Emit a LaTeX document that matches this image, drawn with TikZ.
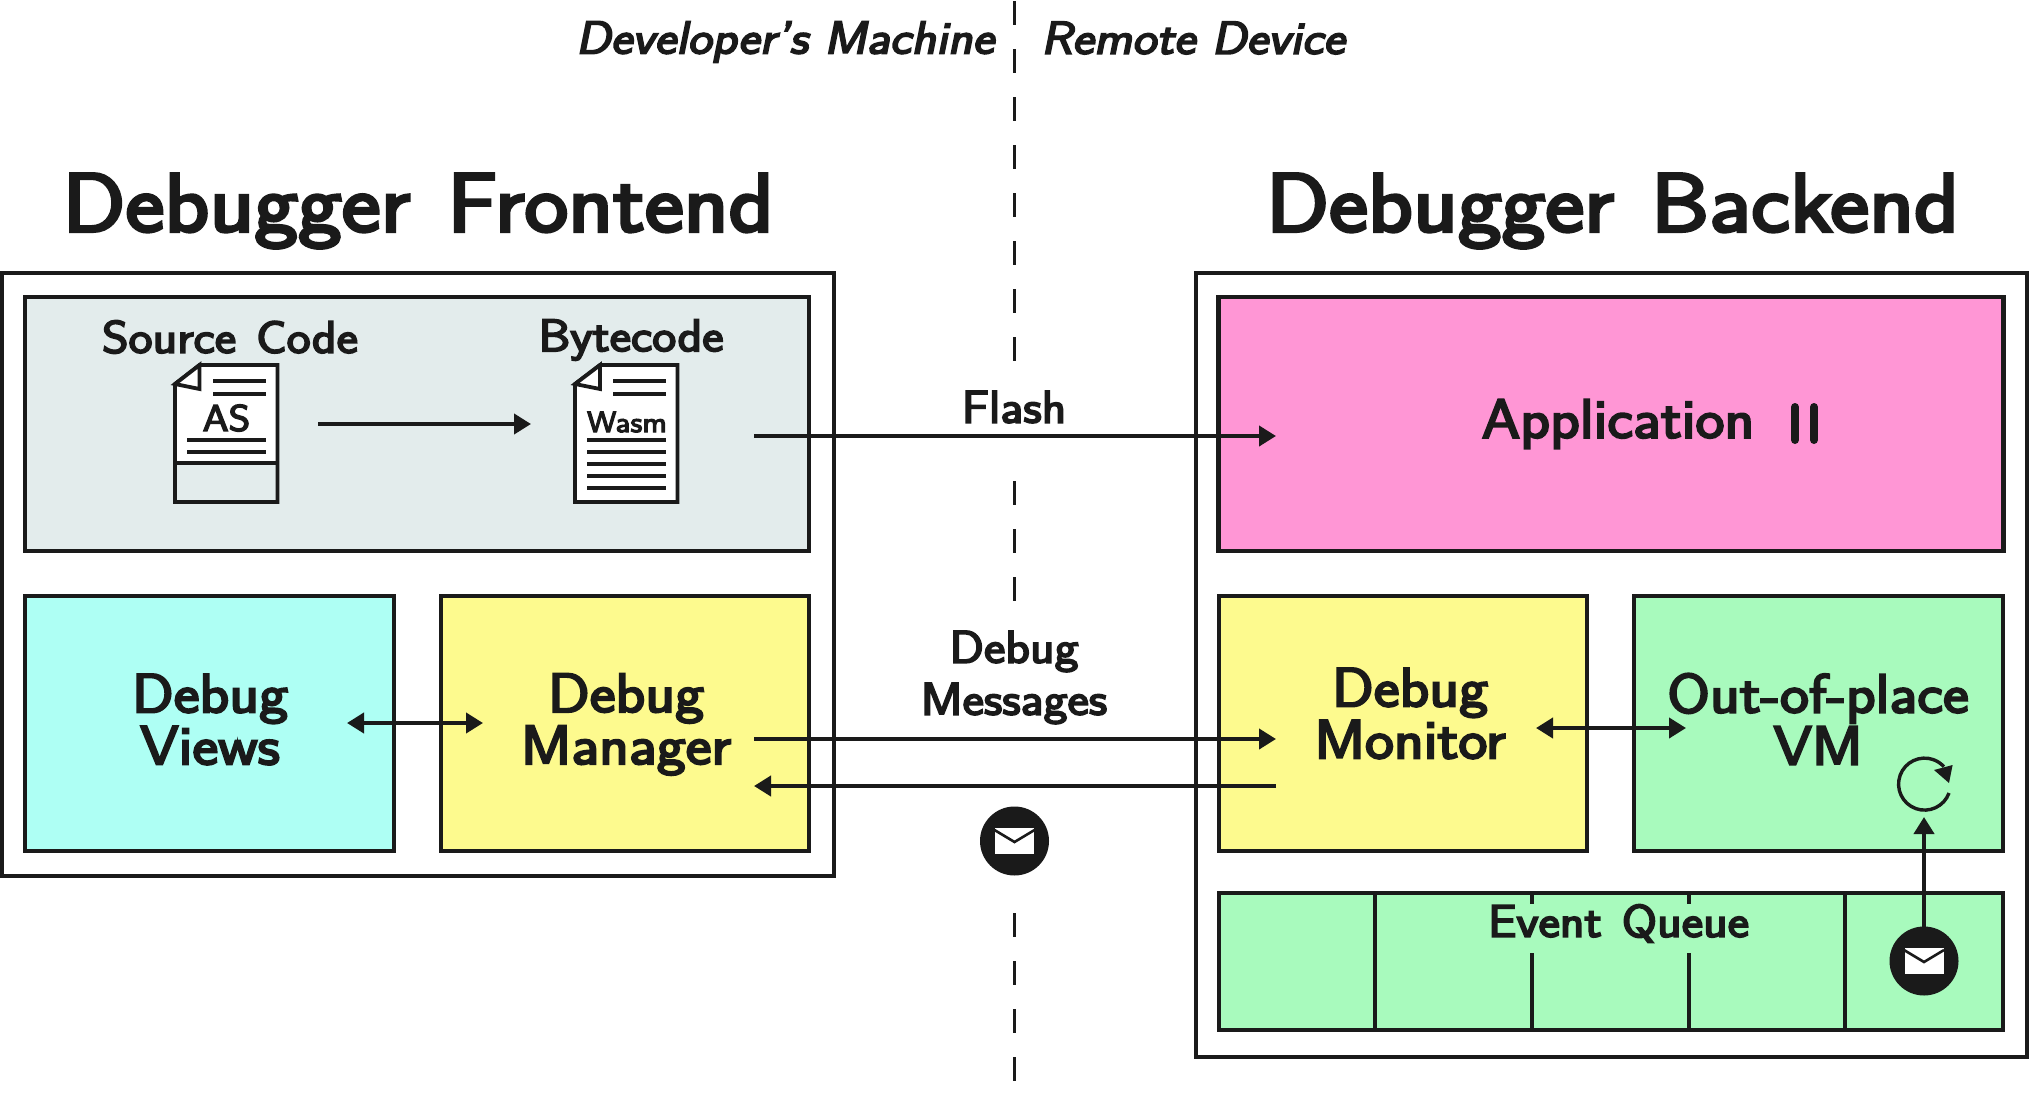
\documentclass[tikz,border=0pt]{standalone}
\usepackage{fontspec}
\usetikzlibrary{arrows.meta}
\newfontfamily\heavysans{Latin Modern Sans}[FakeBold=4,FakeStretch=1.12]
\newfontfamily\heavyslant{Latin Modern Sans}[FakeBold=4,FakeStretch=1.12,FakeSlant=0.2]
\definecolor{ink}{HTML}{1A1A1A}
\definecolor{slate}{HTML}{E3ECEC}
\definecolor{pinkbox}{HTML}{FF96D5}
\definecolor{cyanbox}{HTML}{AEFFF4}
\definecolor{yellowbox}{HTML}{FDFA8E}
\definecolor{greenbox}{HTML}{A8FABD}
\newcommand{\fsz}[2]{\fontsize{#1}{#2}\selectfont\lineskiplimit=-200pt\relax}
\tikzset{
  x=1pt,y=-1pt,
  every node/.style={text=ink,font=\heavysans,inner sep=0pt,outer sep=0pt},
  outerbox/.style={draw=ink,line width=3.7pt,fill=white},
  innerbox/.style={draw=ink,line width=4.4pt},
  conn/.style={draw=ink,line width=4pt,-{Triangle[length=17pt,width=20pt]}},
  biconn/.style={draw=ink,line width=4pt,{Triangle[length=17pt,width=20pt]}-{Triangle[length=17pt,width=20pt]}},
  rule/.style={draw=ink,line width=3.8pt},
  docbody/.style={draw=ink,line width=3.8pt,fill=white,line join=miter},
  titlelabel/.style={font=\heavysans\fsz{83}{90}},
  boxlabel/.style={font=\heavysans\fsz{55}{52},align=center},
  smalllabel/.style={font=\heavysans\fsz{45.5}{52},align=center},
  sidelabel/.style={font=\heavyslant\fsz{46}{56}},
  medal/.style={circle,fill=ink,minimum size=69pt},
  pics/envelope/.style={code={
    \fill[white] (-19.5,-13) rectangle (19.5,13);
    \draw[ink,line width=2.6pt] (-20,-11) -- (0,1) -- (20,-11);
  }},
}
\begin{document}
\begin{tikzpicture}
\useasboundingbox[fill=white] (0,0) rectangle (2029,1100);

% separator
\coordinate (sepT) at (1014.7,1);
\coordinate (sepB) at (1014.7,1084);
\draw[draw=ink,line width=3.5pt,dash pattern=on 24pt off 24pt] (sepT) -- (sepB);
\fill[white] (990,366) rectangle (1038,474);
\fill[white] (990,610) rectangle (1038,908);

% outer containers
\node[outerbox,minimum width=832pt,minimum height=603pt] (front) at (418,574.5) {};
\node[outerbox,minimum width=831pt,minimum height=784pt] (back) at (1611.5,665) {};

% titles
\node[titlelabel] (tf) at (418,211) {Debugger\hspace{8pt} Frontend};
\node[titlelabel] (tb) at (1612.5,211) {Debugger\hspace{8pt} Backend};
\node[sidelabel] (dm) at (785,42) {Developer’s Machine};
\node[sidelabel] (rd) at (1193,38) {Remote Device};

% frontend boxes
\node[innerbox,fill=slate,minimum width=784pt,minimum height=254pt] (tool) at (417,424) {};
\node[innerbox,fill=cyanbox,minimum width=369pt,minimum height=255pt] (views) at (209.5,723.5) {};
\node[innerbox,fill=yellowbox,minimum width=368.5pt,minimum height=255pt] (mgr) at (625,723.5) {};
\node[boxlabel] (viewsT) at (210,719.5) {Debug\\Views};
\node[boxlabel] (mgrT) at (626,724.5) {Debug\\Manager};

% source document
\node[smalllabel] (srcT) at (230,337) {Source\hspace{4pt} Code};
\node[smalllabel] (bcT) at (631,340) {Bytecode};
\fill[white] (199.5,365) -- (277.5,365) -- (277.5,463) -- (175,463) -- (175,384) -- cycle;
\draw[docbody,fill=none] (199.5,365) -- (277.5,365) -- (277.5,502) -- (175,502) -- (175,384) -- cycle;
\draw[docbody] (199.5,365) -- (175,384) -- (199.5,389) -- cycle;
\draw[rule] (175,463) -- (277.5,463);
\draw[rule] (213,381) -- (266,381) (213,394) -- (266,394) (187,440) -- (266,440) (187,452) -- (266,452);
\node[font=\heavysans\fsz{37}{44}] (asT) at (226.5,418) {AS};

% bytecode document
\draw[docbody] (600,365) -- (677.5,365) -- (677.5,502) -- (575,502) -- (575,384) -- cycle;
\draw[docbody] (600,365) -- (575,384) -- (600,389) -- cycle;
\draw[rule] (613,381) -- (666,381) (613,394) -- (666,394);
\draw[rule] (587,440) -- (666,440) (587,452) -- (666,452) (587,464) -- (666,464) (587,476) -- (666,476) (587,488) -- (666,488);
\node[font=\heavysans\fsz{29.5}{36}] (wasmT) at (627,422) {Wasm};

% backend boxes
\node[innerbox,fill=pinkbox,minimum width=785pt,minimum height=254pt] (app) at (1611,424) {};
\node[innerbox,fill=yellowbox,minimum width=368pt,minimum height=255pt] (mon) at (1403,723.5) {};
\node[innerbox,fill=greenbox,minimum width=369pt,minimum height=255pt] (vm) at (1818.5,723.5) {};
\node[boxlabel] (monT) at (1410,713.5) {Debug\\Monitor};
\node[boxlabel] (vmT) at (1818,719) {Out-of-place\\VM};
\node[boxlabel] (appT) at (1618,424) {Application};
\draw[draw=ink,line width=8pt,line cap=round] (1795,407) -- (1795,440) (1814,407) -- (1814,440);

% event queue
\node[innerbox,fill=greenbox,minimum width=784pt,minimum height=137pt] (queue) at (1611,961.5) {};
\draw[rule] (1375,893) -- (1375,1030) (1532,893) -- (1532,1030) (1689,893) -- (1689,1030) (1845,893) -- (1845,1030);
\node[fill=greenbox,minimum width=200pt,minimum height=49pt] (queueT) at (1618.5,928.5) {};
\node[font=\heavysans\fsz{45.5}{50}] (queueL) at (1618.5,923.5) {Event\hspace{4pt} Queue};

% labels on the wire
\node[smalllabel] (flashT) at (1014,407) {Flash};
\node[smalllabel] (msgT) at (1014,677.5) {Debug\\Messages};

% anchor points for the wires
\coordinate (c1) at (318,424);
\coordinate (c2) at (531,424);
\coordinate (f1) at (754,436);
\coordinate (f2) at (1276,436);
\coordinate (m1) at (754,739);
\coordinate (m2) at (1276,739);
\coordinate (r1) at (1276,786);
\coordinate (r2) at (754,786);
\coordinate (v1) at (347,723);
\coordinate (v2) at (483,723);
\coordinate (w1) at (1536,728);
\coordinate (w2) at (1686,728);
\coordinate (u2) at (1924,817);

\draw[conn] (c1) -- (c2);
\draw[conn] (f1) -- (f2);
\draw[conn] (m1) -- (m2);
\draw[conn] (r1) -- (r2);
\draw[biconn] (v1) -- (v2);
\draw[biconn] (w1) -- (w2);

% medals
\node[medal] (mailA) at (1014.5,841) {};
\pic at (mailA.center) {envelope};
\node[medal] (mailB) at (1924,961) {};
\pic at (mailB.center) {envelope};
\draw[conn] (mailB) -- (u2);

% loop
\draw[draw=ink,line width=3.4pt]
  (1949,793) arc[start angle=20,end angle=318,radius=26];
\fill[ink] (1952.6,765) -- (1934,770) -- (1949,783) -- cycle;
\end{tikzpicture}
\end{document}
